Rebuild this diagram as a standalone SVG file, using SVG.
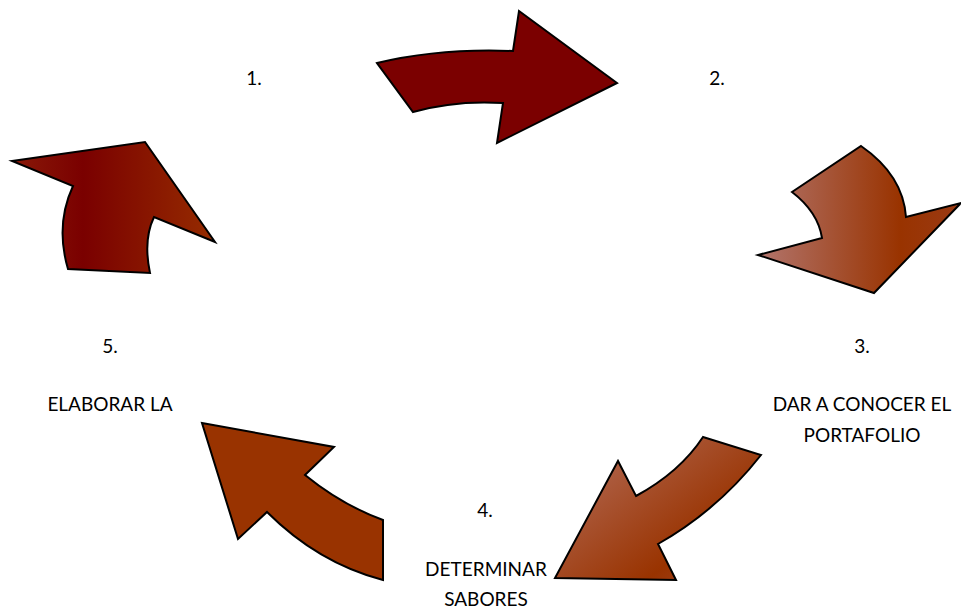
<svg xmlns="http://www.w3.org/2000/svg" width="961" height="609" viewBox="0 0 961 609">
<style>
.a{stroke:#000;stroke-width:2;stroke-linejoin:miter}
.t{font-family:Lato,"Open Sans",sans-serif;font-size:19px;fill:#000;text-anchor:middle}
</style>
<defs>
<linearGradient id="g2" x1="758" y1="0" x2="961" y2="0" gradientUnits="userSpaceOnUse">
<stop offset="0" stop-color="#b2756d"/><stop offset="0.7" stop-color="#993300"/><stop offset="1" stop-color="#9a3a14"/>
</linearGradient>
<linearGradient id="g3" x1="600" y1="450" x2="700" y2="580" gradientUnits="userSpaceOnUse">
<stop offset="0" stop-color="#b0644c"/><stop offset="0.8" stop-color="#993300"/><stop offset="1" stop-color="#9e3e18"/>
</linearGradient>
<linearGradient id="g5" x1="12" y1="0" x2="215" y2="0" gradientUnits="userSpaceOnUse">
<stop offset="0" stop-color="#8a1a08"/><stop offset="0.35" stop-color="#7a0000"/><stop offset="1" stop-color="#962c00"/>
</linearGradient>
</defs>
<g id="connectors">
<path id="arrow1" class="a" fill="#7b0000" d="M377,63 Q440,48 513,51 L519,11 L617,83 L497,143 L503,103 Q455,100 413,112 Z"/>
<path id="arrow2" class="a" fill="url(#g2)" d="M861,146 Q903,175 906,217 L961,203 L874,293 L758,255 L822,238 Q818,212 792,192 Z"/>
<path id="arrow3" class="a" fill="url(#g3)" d="M703,437 L761,455 Q718,510 658,544 L676,580 L555,578 L618,461 L636,496 Q680,472 703,437 Z"/>
<path id="arrow4" class="a" fill="#993300" d="M202,423 L334,447 L305,475 Q342,505 383,520 L383,580 Q318,563 267,512 L238,539 Z"/>
<path id="arrow5" class="a" fill="url(#g5)" d="M12,161 L145,142 L215,242 L154,217 Q143,240 150,273 L68,269 Q55,225 73,186 Z"/>
</g>
<g id="node1"><text class="t" x="254" y="85">1.</text></g>
<g id="node2"><text class="t" x="717" y="85">2.</text></g>
<g id="node3"><text class="t" x="862" y="353">3.</text><text class="t" x="862" y="411">DAR A CONOCER EL</text><text class="t" x="862" y="442">PORTAFOLIO</text></g>
<g id="node4"><text class="t" x="485" y="517">4.</text><text class="t" x="486" y="576">DETERMINAR</text><text class="t" x="486" y="606">SABORES</text></g>
<g id="node5"><text class="t" x="110" y="353">5.</text><text class="t" x="110" y="411">ELABORAR LA</text></g>
</svg>
